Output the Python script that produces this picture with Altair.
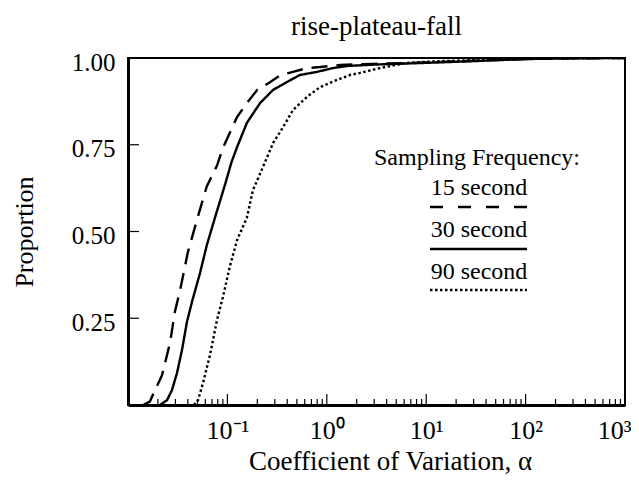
import altair as alt
import pandas as pd

# ---- data ----
x15 = [0.0142, 0.0166, 0.0187, 0.022, 0.0265, 0.0297, 0.0334, 0.040, 0.049, 0.062, 0.0786, 0.090,
       0.106, 0.125, 0.157, 0.199, 0.268, 0.338, 0.457, 0.632, 0.855, 1.36, 3.0, 10, 30, 100, 300, 1000]
p15 = [0.0, 0.01, 0.043, 0.086, 0.18, 0.27, 0.33, 0.44, 0.53, 0.63, 0.69, 0.74,
       0.785, 0.83, 0.87, 0.908, 0.93, 0.95, 0.96, 0.971, 0.974, 0.98, 0.983, 0.987, 0.992, 0.997, 0.999, 1.0]

x30 = [0.021, 0.0247, 0.0277, 0.0311, 0.0349, 0.0392, 0.044, 0.053, 0.062, 0.075, 0.0946, 0.11,
       0.125, 0.157, 0.213, 0.288, 0.398, 0.537, 0.797, 1.15, 1.6, 3.0, 10, 30, 100, 300, 1000]
p30 = [0.0, 0.014, 0.043, 0.092, 0.158, 0.24, 0.297, 0.38, 0.46, 0.54, 0.635, 0.70,
       0.743, 0.813, 0.87, 0.908, 0.931, 0.951, 0.96, 0.971, 0.977, 0.981, 0.986, 0.991, 0.997, 0.999, 1.0]

x90 = [0.046, 0.0506, 0.0568, 0.0668, 0.0786, 0.090, 0.106, 0.125, 0.157, 0.181, 0.228, 0.288,
       0.362, 0.457, 0.632, 0.855, 1.27, 1.71, 2.16, 3.43, 6.4, 13.8, 55, 200, 1000]
p90 = [0.0, 0.014, 0.063, 0.144, 0.245, 0.31, 0.40, 0.475, 0.54, 0.62, 0.686, 0.755,
       0.80, 0.85, 0.888, 0.916, 0.937, 0.951, 0.957, 0.971, 0.986, 0.991, 0.996, 0.999, 1.0]

series_names = ["15 second", "30 second", "90 second"]
legend_title = "Sampling Frequency:"
chart_title = "rise-plateau-fall"
x_title = "Coefficient of Variation, \u03b1"
y_title = "Proportion"

y_tick_values = [0.25, 0.5, 0.75, 1.0]
x_major = [0.01, 0.1, 1, 10, 100, 1000]
x_label_values = [0.1, 1, 10, 100, 1000]
x_label_text = ["10\u207b\u00b9", "10\u2070", "10\u00b9", "10\u00b2", "10\u00b3"]
x_minor = [m * d for d in [0.01, 0.1, 1, 10, 100] for m in range(2, 10)]

FONT = "Liberation Serif"
W, H = 497, 347

rows = []
for name, xs, ps in zip(series_names, [x15, x30, x90], [p15, p30, p90]):
    for a, b in zip(xs, ps):
        rows.append({"series": name, "cv": a, "p": b})
df = pd.DataFrame(rows)

xscale = alt.Scale(type="log", domain=[0.01, 1000], nice=False)
yscale = alt.Scale(domain=[0, 1], nice=False, zero=False)

label_expr = " : ".join(
    f"datum.value == {v} ? '{t}'" for v, t in zip(x_label_values, x_label_text)
) + " : ''"

xaxis = alt.Axis(values=x_label_values, labelExpr=label_expr, tickSize=0, ticks=False,
                 grid=False, domain=True, domainWidth=3, domainColor="black",
                 labelFont=FONT, labelFontSize=26, labelColor="black", labelPadding=12,
                 labelFlush=True, labelFlushOffset=6, labelOverlap=False,
                 title=x_title, titleFont=FONT, titleFontSize=27, titleFontWeight="normal",
                 titleColor="black", titleX=262, titleY=64, titleBaseline="alphabetic",
                 titleAlign="center")
yaxis = alt.Axis(values=y_tick_values, format=".2f", tickSize=0, ticks=False, grid=False,
                 domain=True, domainWidth=3, domainColor="black",
                 labelFont=FONT, labelFontSize=25, labelColor="black", labelPadding=13,
                 labelOffset=4, labelFlush=False,
                 title=y_title, titleFont=FONT, titleFontSize=26, titleFontWeight="normal",
                 titleColor="black", titleX=-104, titleY=H / 2, titleAngle=270,
                 titleBaseline="middle", titleAlign="center")

dash_range = [[16, 9], [1, 0], [2.5, 2.5]]

lines = alt.Chart(df).mark_line(color="black", strokeWidth=2.4, clip=True).encode(
    x=alt.X("cv:Q", scale=xscale, axis=xaxis),
    y=alt.Y("p:Q", scale=yscale, axis=yaxis),
    strokeDash=alt.StrokeDash("series:N", scale=alt.Scale(domain=series_names, range=dash_range),
                              legend=None),
    detail="series:N",
)

minor_df = pd.DataFrame({"cv": x_minor})
major_df = pd.DataFrame({"cv": x_major})
ytick_df = pd.DataFrame({"p": y_tick_values})

minor_ticks = alt.Chart(minor_df).mark_rule(color="black", strokeWidth=1.2).encode(
    x=alt.X("cv:Q", scale=xscale, axis=xaxis), y=alt.value(H), y2=alt.value(H - 6))
major_ticks = alt.Chart(major_df).mark_rule(color="black", strokeWidth=1.2).encode(
    x=alt.X("cv:Q", scale=xscale, axis=xaxis), y=alt.value(H), y2=alt.value(H - 11))
y_ticks = alt.Chart(ytick_df).mark_rule(color="black", strokeWidth=1.2).encode(
    y=alt.Y("p:Q", scale=yscale, axis=yaxis), x=alt.value(0), x2=alt.value(11))

one = alt.Data(values=[{}])

title_layer = alt.Chart(one).mark_text(font=FONT, fontSize=27, color="black", align="center",
                                       baseline="alphabetic", text=chart_title).encode(
    x=alt.value(W / 2), y=alt.value(-23))

LX = 351
legend_layers = [
    alt.Chart(one).mark_text(font=FONT, fontSize=24, color="black", align="center",
                             baseline="alphabetic", text=legend_title).encode(
        x=alt.value(LX - 2), y=alt.value(107)),
]
text_y = [137, 179, 221]
rule_y = [149, 191, 232]
for name, ty, ry, dash in zip(series_names, text_y, rule_y, [[13, 15], [1, 0], [2.5, 2.5]]):
    legend_layers.append(
        alt.Chart(one).mark_text(font=FONT, fontSize=24, color="black", align="center",
                                 baseline="alphabetic", text=name).encode(
            x=alt.value(LX), y=alt.value(ty)))
    legend_layers.append(
        alt.Chart(one).mark_rule(color="black", strokeWidth=2.4, strokeDash=dash).encode(
            x=alt.value(302), x2=alt.value(399), y=alt.value(ry)))

chart = alt.layer(lines, minor_ticks, major_ticks, y_ticks, title_layer, *legend_layers).properties(
    width=W, height=H,
    autosize=alt.AutoSizeParams(type="none"),
    padding={"left": 120, "top": 50, "right": 6, "bottom": 70},
).configure(
    background="white",
    view=alt.ViewConfig(stroke="black", strokeWidth=2),
)

chart.save("out.html", embed_options={"renderer": "svg", "actions": False})
